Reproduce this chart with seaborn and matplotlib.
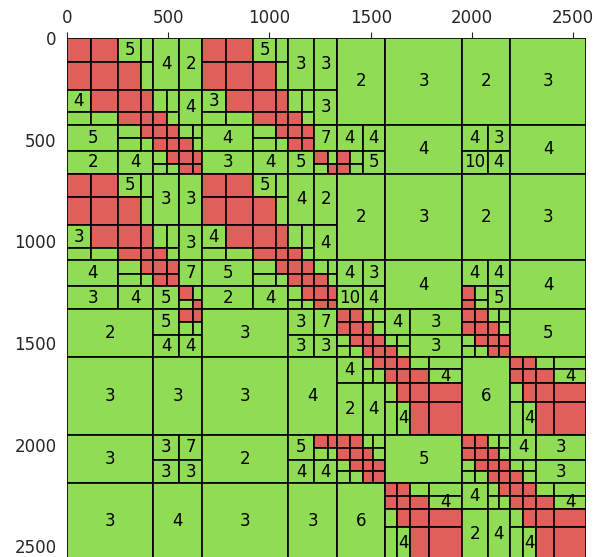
"""
Block structure of a hierarchical matrix: dense blocks red, low-rank blocks green with rank
"""
import matplotlib
matplotlib.use('Agg')
import matplotlib.pyplot as plt
from matplotlib.patches import Rectangle
import seaborn as sns

sns.set_style("white")
plt.rcParams['font.family'] = ['DejaVu Sans']

N = 2564
D = 'D'   # dense block
g = 'g'   # low-rank block, rank not shown

# cluster tree: (lo, hi) -> split point
SPLITS = {
    (0, 2564): 1334,
    (0, 1334): 667,
    (0, 667): 427, (0, 427): 254, (0, 254): 117, (254, 427): 366,
    (427, 667): 555, (427, 555): 493, (555, 667): 621,
    (667, 1334): 1094, (667, 1094): 921, (667, 921): 784, (921, 1094): 1033,
    (1094, 1334): 1222, (1094, 1222): 1160, (1222, 1334): 1288,
    (1334, 2564): 1951,
    (1334, 1951): 1571, (1334, 1571): 1461, (1334, 1461): 1398, (1461, 1571): 1513,
    (1571, 1951): 1695, (1571, 1695): 1628, (1695, 1951): 1789,
    (1951, 2564): 2189, (1951, 2189): 2077, (1951, 2077): 2016, (2077, 2189): 2131,
    (2189, 2564): 2316, (2189, 2316): 2252, (2316, 2564): 2406,
}

DD = [D, D, D, D]

# block tree: [row0 x col0, row0 x col1, row1 x col0, row1 x col1]
tile_diag = [
    [DD, [5, g, D, g], [4, D, g, g], DD],
    [4, 2, [g, g, D, g], 4],
    [5, [g, D, g, g], 2, 4],
    [DD, [g, g, D, g], [g, D, g, g], DD],
]
tile_off = [
    [DD, [5, g, D, g], [3, D, g, g], DD],
    [3, 3, [g, g, D, g], 3],
    [4, [g, D, g, g], 3, 4],
    [DD, 7, 5, [D, g, g, D]],
]
LL = [tile_diag, tile_off, tile_off, tile_diag]
LR = [
    [2, 3, [4, 4, [D, g, D, g], 5], 4],
    [2, 3, [4, 3, 10, 4], 4],
    [2, 3, [4, 3, 10, 4], 4],
    [2, 3, [4, 4, [D, g, D, g], 5], 4],
]
RL = [
    [2, [5, [D, D, g, g], 4, 4], 3, 3],
    [3, [3, 7, 3, 3], 3, 4],
    [3, [3, 7, 3, 3], 3, 4],
    [2, [5, [D, D, g, g], 4, 4], 3, 3],
]
near_diag = [DD, [g, g, D, g], [g, D, g, g], DD]
far_diag = [DD, [g, g, D, 4], [g, D, g, 4], DD]
RR_diag = [near_diag, [4, 3, [g, g, D, g], 3], [4, [g, D, g, g], 2, 4], far_diag]
RR_off = [near_diag, 5, 6, far_diag]
RR = [RR_diag, RR_off, RR_off, RR_diag]
BLOCKS = [LL, LR, RL, RR]

RED = '#df605a'
GREEN = '#91dc55'


def children(lo, hi):
    m = SPLITS[(lo, hi)]
    return [(lo, m), (m, hi)]


def draw(ax, node, rows, cols):
    if isinstance(node, list):
        rc, cc = children(*rows), children(*cols)
        for k, sub in enumerate(node):
            draw(ax, sub, rc[k // 2], cc[k % 2])
        return
    x0, x1 = cols
    y0, y1 = rows
    color = RED if node == D else GREEN
    ax.add_patch(Rectangle((x0, y0), x1 - x0, y1 - y0, facecolor=color,
                           edgecolor='black', linewidth=1.2))
    if node not in (D, g):
        ax.text((x0 + x1) / 2, (y0 + y1) / 2, str(node), ha='center', va='center',
                fontsize=12, color='black')


fig = plt.figure(figsize=(5.97, 5.57), dpi=100)
ax = fig.add_axes([0.112, -0.004, 0.870, 0.936])
draw(ax, BLOCKS, (0, N), (0, N))
ax.set_xlim(0, N)
ax.set_ylim(N, 0)
ax.xaxis.tick_top()
ax.set_xticks(range(0, 2501, 500))
ax.set_yticks(range(0, 2501, 500))
ax.tick_params(labelsize=12, length=4)
for s in ax.spines.values():
    s.set_visible(False)
fig.savefig('out.png', dpi=100)
